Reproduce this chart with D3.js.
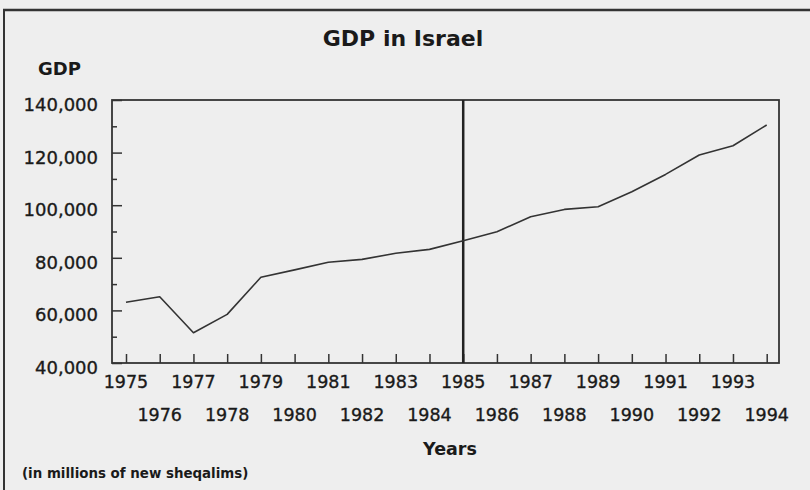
<!DOCTYPE html>
<html>
<head>
<meta charset="utf-8">
<script src="https://cdn.jsdelivr.net/npm/d3@7"></script>
<style>
  html, body { margin: 0; padding: 0; background: #eeeeee; }
  svg { display: block; }
  text { font-family: "DejaVu Sans", sans-serif; fill: #1a1a1a; }
  .axis .domain { display: none; }
  .axis line { stroke: #333; stroke-width: 1.5; }
  .tick-label { stroke: #1a1a1a; stroke-width: 0.35; }
</style>
</head>
<body>
<div id="chart"></div>
<script>
(function () {
  const years = [1975, 1976, 1977, 1978, 1979, 1980, 1981, 1982, 1983, 1984,
    1985, 1986, 1987, 1988, 1989, 1990, 1991, 1992, 1993, 1994];
  const gdp = [63100, 65200, 51500, 58500, 72600, 75400, 78300, 79400, 81700, 83200,
    86500, 89900, 95600, 98400, 99400, 105100, 111700, 119100, 122600, 130500];
  const yMajorTicks = [40000, 60000, 80000, 100000, 120000, 140000];
  const yMinorTicks = [50000, 70000, 90000, 110000, 130000];
  const markerYear = 1985;

  const width = 810;
  const height = 490;
  const plot = { left: 112, right: 779, top: 100, bottom: 363 };

  const svg = d3.select("#chart")
    .append("svg")
    .attr("width", width)
    .attr("height", height);

  svg.append("rect")
    .attr("width", width)
    .attr("height", height)
    .attr("fill", "#eeeeee");

  // outer frame: top and left edges only
  svg.append("line")
    .attr("x1", 3).attr("x2", width).attr("y1", 10).attr("y2", 10)
    .attr("stroke", "#333").attr("stroke-width", 2.5);
  svg.append("line")
    .attr("x1", 4).attr("x2", 4).attr("y1", 9).attr("y2", height)
    .attr("stroke", "#333").attr("stroke-width", 2);

  const x = d3.scaleLinear().domain([1975, 1994]).range([126, 766.7]);
  const y = d3.scaleLinear().domain([40000, 140000]).range([plot.bottom, plot.top]);

  svg.append("rect")
    .attr("x", plot.left)
    .attr("y", plot.top)
    .attr("width", plot.right - plot.left)
    .attr("height", plot.bottom - plot.top)
    .attr("fill", "none")
    .attr("stroke", "#333")
    .attr("stroke-width", 1.8);

  svg.append("g")
    .attr("class", "axis")
    .attr("transform", `translate(0,${plot.bottom})`)
    .call(d3.axisBottom(x).tickValues(years).tickSize(-9).tickFormat(""));

  const yAxis = svg.append("g")
    .attr("class", "axis")
    .attr("transform", `translate(${plot.left},0)`)
    .call(d3.axisLeft(y).tickValues(yMajorTicks).tickSize(-10).tickPadding(14).tickFormat(d3.format(",")));
  yAxis.selectAll("text")
    .attr("class", "tick-label")
    .attr("dy", "0.58em")
    .style("font-size", "18px");

  svg.append("g")
    .attr("class", "axis")
    .attr("transform", `translate(${plot.left},0)`)
    .call(d3.axisLeft(y).tickValues(yMinorTicks).tickSize(-5).tickFormat(""));

  // year labels on two staggered rows
  svg.append("g")
    .selectAll("text")
    .data(years)
    .join("text")
    .attr("class", "tick-label")
    .attr("x", d => x(d))
    .attr("y", (d, i) => i % 2 === 0 ? 388 : 421)
    .attr("text-anchor", "middle")
    .style("font-size", "17.5px")
    .text(d => d);

  svg.append("line")
    .attr("x1", x(markerYear)).attr("x2", x(markerYear))
    .attr("y1", plot.top).attr("y2", plot.bottom)
    .attr("stroke", "#222")
    .attr("stroke-width", 2.5);

  const line = d3.line()
    .x((d, i) => x(years[i]))
    .y(d => y(d));

  svg.append("path")
    .datum(gdp)
    .attr("d", line)
    .attr("fill", "none")
    .attr("stroke", "#333")
    .attr("stroke-width", 1.6)
    .attr("stroke-linejoin", "round");

  svg.append("text")
    .attr("x", 403)
    .attr("y", 46)
    .attr("text-anchor", "middle")
    .style("font-size", "22px")
    .style("font-weight", "bold")
    .text("GDP in Israel");

  svg.append("text")
    .attr("x", 38)
    .attr("y", 75)
    .style("font-size", "18px")
    .style("font-weight", "bold")
    .text("GDP");

  svg.append("text")
    .attr("x", 450)
    .attr("y", 455)
    .attr("text-anchor", "middle")
    .style("font-size", "17.5px")
    .style("font-weight", "bold")
    .text("Years");

  svg.append("text")
    .attr("x", 22)
    .attr("y", 478)
    .style("font-size", "13.4px")
    .style("font-weight", "bold")
    .text("(in millions of new sheqalims)");
})();
</script>
</body>
</html>
